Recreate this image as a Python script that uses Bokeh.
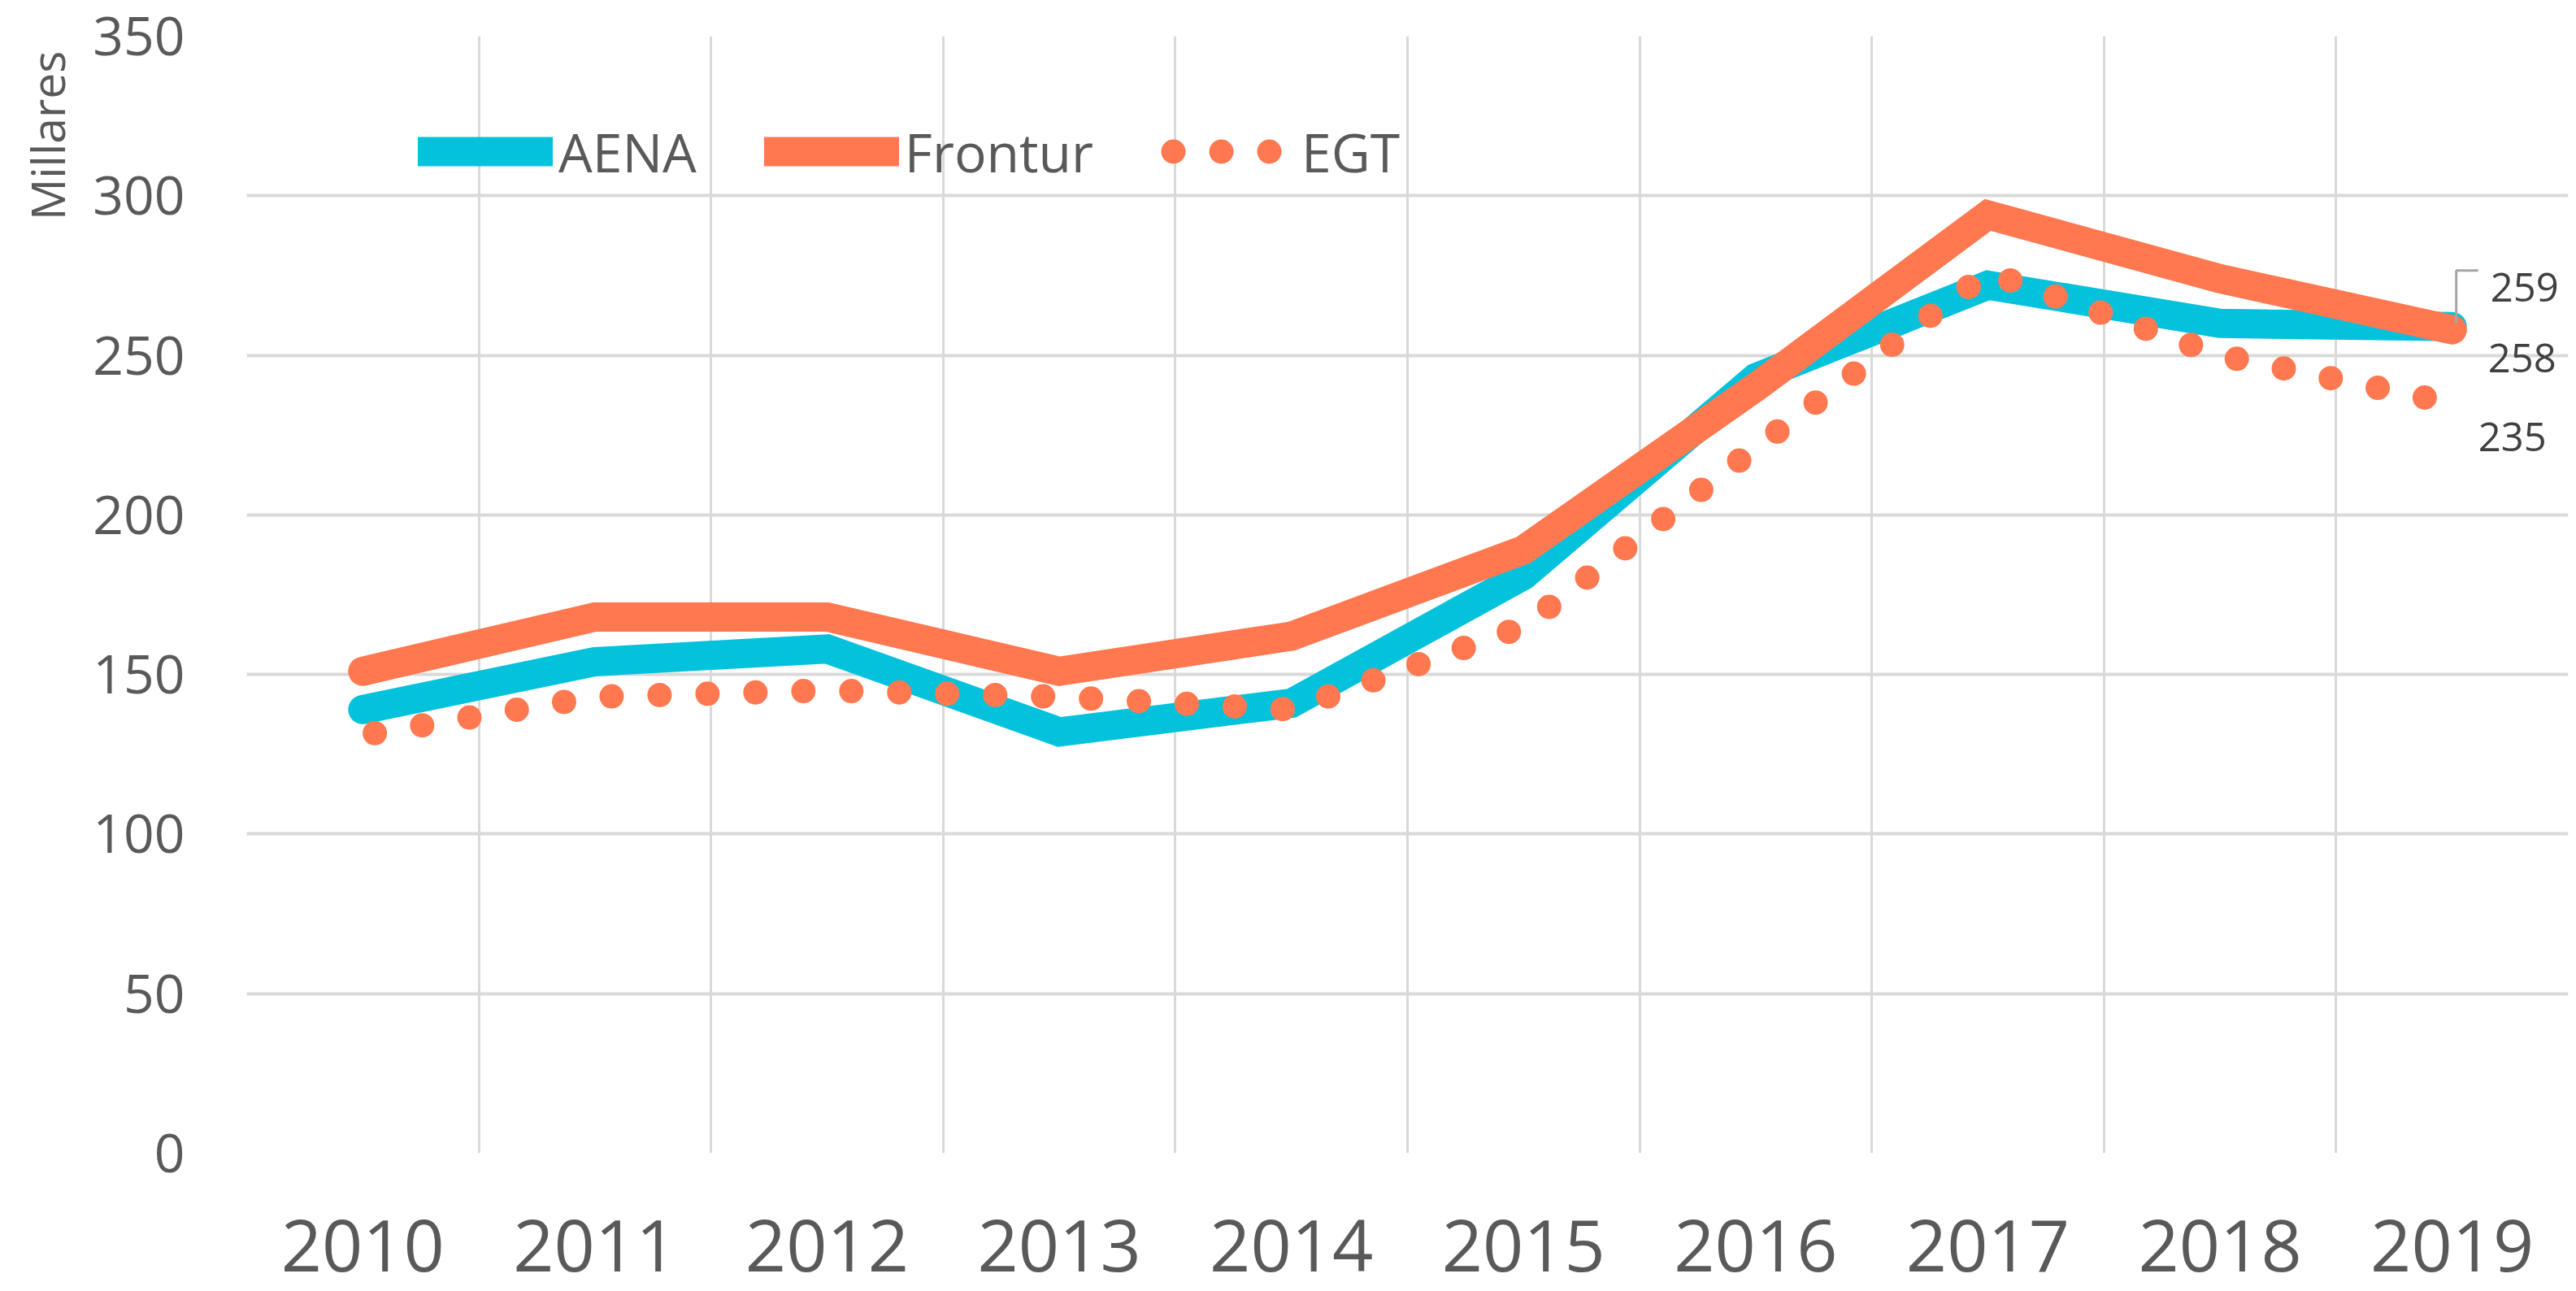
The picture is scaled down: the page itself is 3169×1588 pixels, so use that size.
from bokeh.plotting import figure
from bokeh.models import Range1d, FixedTicker, Legend, LegendItem, Title
from bokeh.embed import file_html
from bokeh.resources import INLINE
from bokeh.core.properties import value

# ---- data ----
years = ["2010", "2011", "2012", "2013", "2014", "2015", "2016", "2017", "2018", "2019"]
aena = [139, 154, 158, 132, 141, 181, 243, 272, 260, 259]
frontur = [151, 168, 168, 151, 162, 189, 240, 294, 274, 258]
egt = [131, 143, 145, 143, 139, 165, 221, 276, 250, 235]
y_ticks = [0, 50, 100, 150, 200, 250, 300, 350]
series_names = ["AENA", "Frontur", "EGT"]
y_axis_title = "Millares"

CYAN = "#05C2DC"
ORANGE = "#FF7850"
TEXT = "#595959"
GRID = "#D9D9D9"
FONT = "Open Sans"

n = len(years)
xs = [i + 0.5 for i in range(n)]

p = figure(width=3163, height=1588, output_backend="svg", toolbar_location=None,
           x_range=Range1d(0, n), y_range=Range1d(y_ticks[0], y_ticks[-1]),
           min_border_left=303, min_border_right=4, min_border_top=44, min_border_bottom=170)
p.outline_line_color = None
p.background_fill_color = "white"
p.border_fill_color = "white"

# axes
p.xaxis.ticker = FixedTicker(ticks=xs)
p.xaxis.major_label_overrides = {x: y for x, y in zip(xs, years)}
p.xaxis.major_label_text_font = FONT
p.xaxis.major_label_text_font_size = "88px"
p.xaxis.major_label_text_color = TEXT
p.xaxis.major_label_standoff = 82
p.yaxis.ticker = FixedTicker(ticks=y_ticks)
p.yaxis.major_label_text_font = FONT
p.yaxis.major_label_text_font_size = "66px"
p.yaxis.major_label_text_color = TEXT
p.yaxis.major_label_standoff = 76
for ax in (p.xaxis, p.yaxis):
    ax.axis_line_color = None
    ax.major_tick_line_color = None
    ax.minor_tick_line_color = None
    ax.major_tick_out = 0
    ax.major_tick_in = 0

# y-axis title, placed at the top of the axis as in the original
p.add_layout(Title(text=y_axis_title, align="right", offset=18, standoff=30,
                   text_font=FONT, text_font_size="57px", text_font_style="normal",
                   text_color=TEXT), "left")

# grids
p.xgrid.ticker = FixedTicker(ticks=list(range(n + 1)))
p.xgrid.grid_line_color = GRID
p.xgrid.grid_line_width = 3
p.ygrid.ticker = FixedTicker(ticks=y_ticks)
p.ygrid.grid_line_color = GRID
p.ygrid.grid_line_width = 4

# series
r_aena = p.line(xs, aena, line_color=CYAN, line_width=36, line_cap="round", line_join="miter")
r_frontur = p.line(xs, frontur, line_color=ORANGE, line_width=36, line_cap="round", line_join="miter")
r_egt = p.line(xs, egt, line_color=ORANGE, line_width=30, line_cap="round",
               line_dash="0 59", line_dash_offset=44)

# leader line for the AENA end label
p.line([xs[-1] + 0.0175, xs[-1] + 0.0175, xs[-1] + 0.112],
       [aena[-1] + 1.1, aena[-1] + 17.6, aena[-1] + 17.6],
       line_color="#A6A6A6", line_width=3)

# end labels
p.text(x=[xs[-1]] * 3, y=[aena[-1], frontur[-1], egt[-1]],
       text=[str(aena[-1]), str(frontur[-1]), str(egt[-1])],
       x_offset=[47, 44, 32], y_offset=[-48, 35, 42],
       text_font=value(FONT), text_font_size="49px", text_color="#404040",
       text_align="left", text_baseline="alphabetic")

# legend
legend = Legend(items=[LegendItem(label=series_names[0], renderers=[r_aena]),
                       LegendItem(label=series_names[1], renderers=[r_frontur]),
                       LegendItem(label=series_names[2], renderers=[r_egt])],
                orientation="horizontal", location=(211, 1187),
                glyph_width=166, glyph_height=90, label_height=90,
                label_standoff=7, spacing=83, padding=0, margin=0,
                border_line_color=None, background_fill_alpha=0,
                label_text_font=FONT, label_text_font_size="66px",
                label_text_color=TEXT)
p.add_layout(legend)

open("out.html", "w").write(file_html(p, INLINE))
